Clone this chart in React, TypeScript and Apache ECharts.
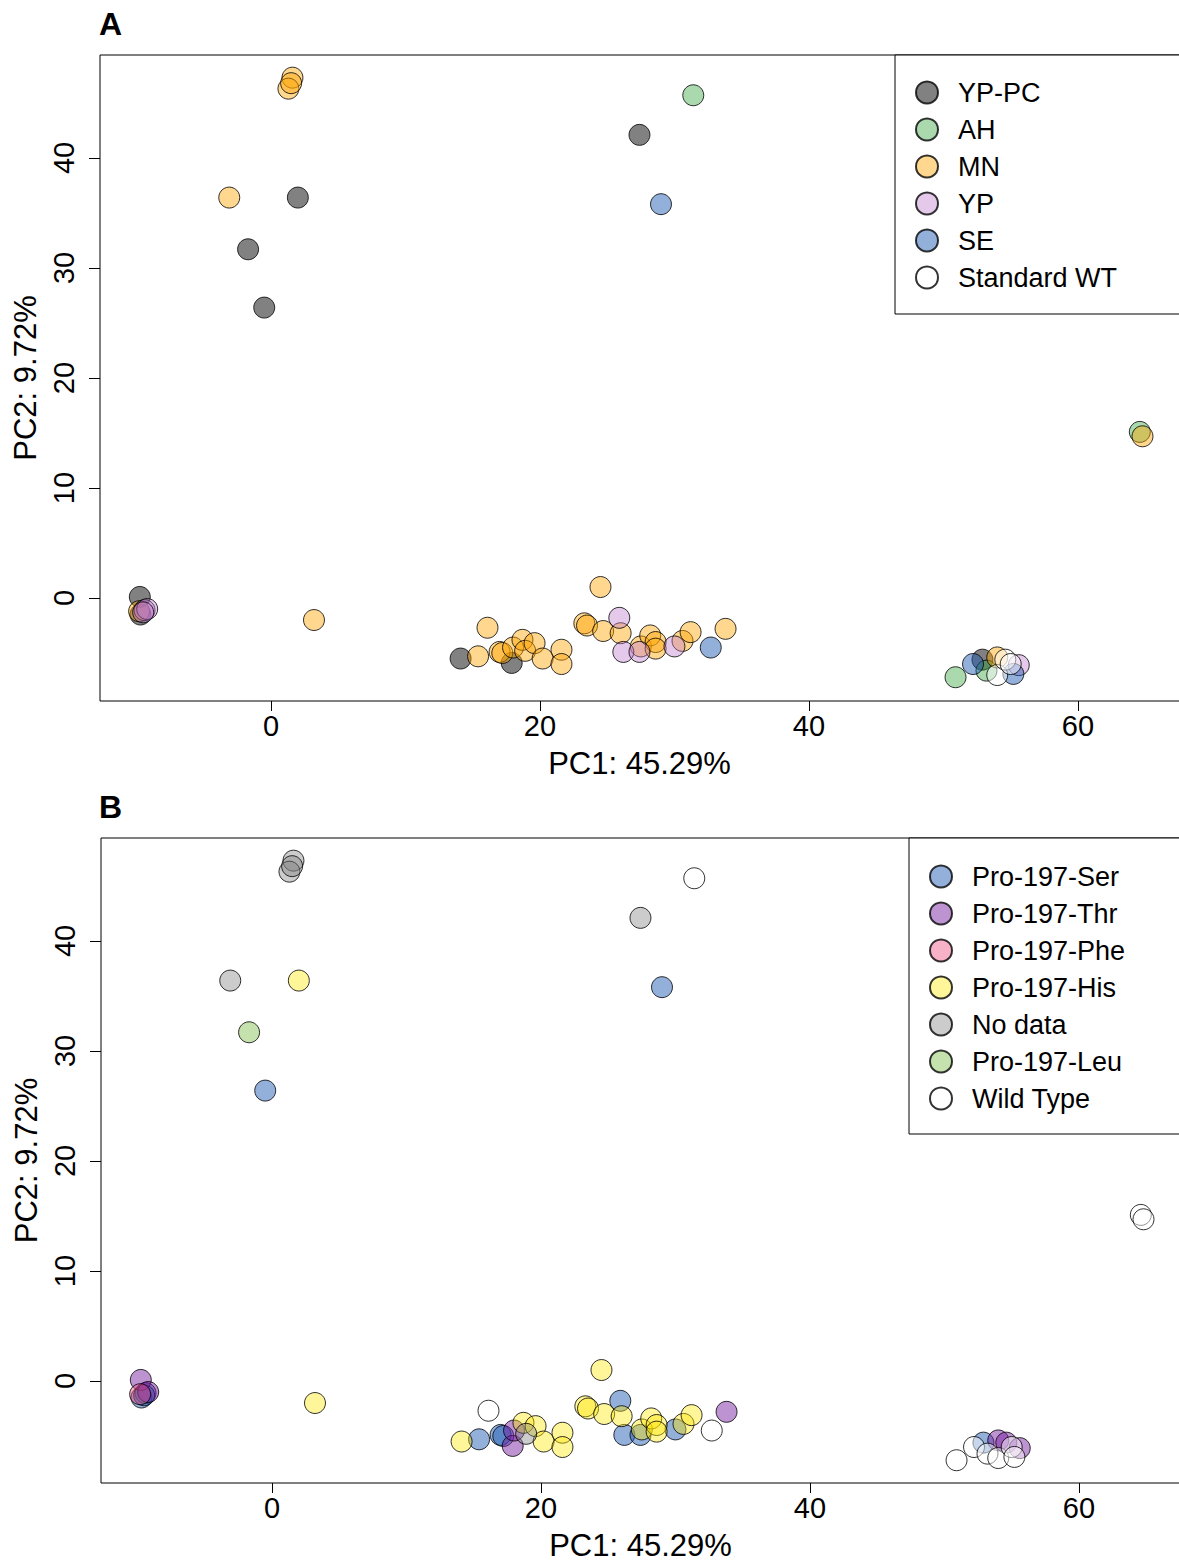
import React, { useEffect, useRef } from "react";
import * as echarts from "echarts";

// ---------- Panel A groups (PC1, PC2) ----------
const A_YPPC = [[2.0, 36.4], [-1.7, 31.7], [-0.5, 26.4], [27.4, 42.1], [-9.75, 0.1], [-9.7, -1.5], [14.1, -5.5], [17.9, -5.9], [52.9, -5.6]];
const A_AH = [[31.4, 45.7], [64.6, 15.1], [50.9, -7.2], [53.2, -6.6]];
const A_MN = [
  [1.6, 47.3], [1.3, 46.3], [1.5, 46.8], [-3.1, 36.4], [64.8, 14.7], [3.2, -2.0], [24.5, 1.0], [-9.8, -1.2],
  [15.4, -5.3], [16.1, -2.7], [17.0, -4.9], [17.2, -5.0], [18.0, -4.5], [18.7, -3.8], [18.9, -4.8], [19.6, -4.1],
  [20.2, -5.5], [21.6, -4.7], [21.6, -6.0], [23.3, -2.3], [23.5, -2.5], [24.7, -3.0], [26.0, -3.2], [27.5, -4.4],
  [28.2, -3.4], [28.6, -4.0], [28.6, -4.6], [30.6, -3.9], [31.2, -3.1], [33.8, -2.8], [54.0, -5.4],
];
const A_YP = [[-9.4, -1.1], [-9.2, -1.0], [-9.5, -1.3], [25.9, -1.8], [26.2, -4.9], [27.4, -4.9], [30.0, -4.4], [55.6, -6.1]];
const A_SE = [[29.0, 35.8], [32.7, -4.5], [52.2, -6.0], [55.2, -6.9]];
const A_WT = [[54.0, -7.0], [54.6, -5.6], [55.0, -6.0]];

// ---------- Panel B groups (PC1, PC2) ----------
const B_SER = [[-0.5, 26.4], [29.0, 35.8], [-9.7, -1.5], [-9.4, -1.1], [-9.5, -1.3], [15.4, -5.3], [17.0, -4.9], [17.2, -5.0], [25.9, -1.8], [26.2, -4.9], [27.4, -4.9], [30.0, -4.4], [52.9, -5.6]];
const B_THR = [[-9.75, 0.1], [-9.2, -1.0], [17.9, -5.9], [18.0, -4.5], [33.8, -2.8], [54.0, -5.4], [54.6, -5.6], [55.6, -6.1]];
const B_PHE = [[-9.8, -1.2]];
const B_HIS = [
  [2.0, 36.4], [3.2, -2.0], [24.5, 1.0], [14.1, -5.5], [18.7, -3.8], [19.6, -4.1], [20.2, -5.5], [21.6, -4.7],
  [21.6, -6.0], [23.3, -2.3], [23.5, -2.5], [24.7, -3.0], [26.0, -3.2], [27.5, -4.4], [28.2, -3.4], [28.6, -4.0],
  [28.6, -4.6], [30.6, -3.9], [31.2, -3.1],
];
const B_ND = [[1.6, 47.3], [1.3, 46.3], [1.5, 46.8], [-3.1, 36.4], [27.4, 42.1], [18.9, -4.8]];
const B_LEU = [[-1.7, 31.7]];
const B_WT = [[31.4, 45.7], [64.6, 15.1], [64.8, 14.7], [16.1, -2.7], [32.7, -4.5], [50.9, -7.2], [52.2, -6.0], [53.2, -6.6], [54.0, -7.0], [55.0, -6.0], [55.2, -6.9]];

const X_TICKS = [0, 20, 40, 60];
const Y_TICKS = [0, 10, 20, 30, 40];
const X_TITLE = "PC1: 45.29%";
const Y_TITLE = "PC2: 9.72%";

const A_NAMES = ["YP-PC", "AH", "MN", "YP", "SE", "Standard WT"];
const B_NAMES = ["Pro-197-Ser", "Pro-197-Thr", "Pro-197-Phe", "Pro-197-His", "No data", "Pro-197-Leu", "Wild Type"];

const FONT = "'Liberation Sans', Arial, Helvetica, sans-serif";

const A_COLORS = [
  "rgba(0,0,0,0.62)",
  "rgba(40,160,50,0.5)",
  "rgba(255,165,0,0.55)",
  "rgba(190,120,205,0.5)",
  "rgba(30,90,180,0.6)",
  "rgba(255,255,255,0.6)",
];
const B_COLORS = [
  "rgba(30,90,180,0.6)",
  "rgba(120,30,160,0.6)",
  "rgba(240,80,130,0.55)",
  "rgba(255,230,0,0.5)",
  "rgba(128,128,128,0.5)",
  "rgba(110,180,50,0.5)",
  "rgba(255,255,255,0.6)",
];

function xAxis(gridIndex: number) {
  return {
    type: "value",
    gridIndex,
    min: -12.71,
    max: 67.96,
    name: X_TITLE,
    nameLocation: "middle",
    nameGap: 47,
    nameTextStyle: { fontSize: 31, color: "#000", fontFamily: FONT, padding: [0, 6, 0, 0] },
    axisLine: { show: false, onZero: false },
    axisTick: { show: true, length: 10, lineStyle: { color: "#000", width: 1 }, customValues: X_TICKS },
    axisLabel: { fontSize: 29, color: "#000", fontFamily: FONT, margin: 10, customValues: X_TICKS },
    splitLine: { show: false },
  };
}

function yAxis(gridIndex: number, min: number, max: number) {
  return {
    type: "value",
    gridIndex,
    min,
    max,
    name: Y_TITLE,
    nameLocation: "middle",
    nameGap: 58,
    nameRotate: 90,
    nameTextStyle: { fontSize: 31, color: "#000", fontFamily: FONT },
    axisLine: { show: false, onZero: false },
    axisTick: { show: true, length: 11, lineStyle: { color: "#000", width: 1 }, customValues: Y_TICKS },
    axisLabel: { fontSize: 29, color: "#000", fontFamily: FONT, margin: 22, rotate: 90, customValues: Y_TICKS },
    splitLine: { show: false },
  };
}

function scatter(name: string, data: number[][], color: string, idx: number) {
  return {
    type: "scatter",
    name,
    data,
    xAxisIndex: idx,
    yAxisIndex: idx,
    symbol: "circle",
    symbolSize: 21,
    itemStyle: { color, borderColor: "#000", borderWidth: 1 },
    emphasis: { disabled: true },
  };
}

function legend(names: string[], left: number, top: number, pad: number[]) {
  return {
    data: names,
    orient: "vertical",
    left,
    top,
    padding: pad,
    itemWidth: 22,
    itemHeight: 22,
    itemGap: 10,
    borderColor: "#000",
    borderWidth: 1,
    backgroundColor: "#fff",
    selectedMode: false,
    textStyle: { fontSize: 27, fontFamily: FONT, color: "#000", padding: [0, 0, 0, 15] },
  };
}

export default function App() {
  const ref = useRef<HTMLDivElement>(null);
  useEffect(() => {
    if (!ref.current) return;
    const chart = echarts.init(ref.current, null, { renderer: "svg" });
    const aData = [A_YPPC, A_AH, A_MN, A_YP, A_SE, A_WT];
    const bData = [B_SER, B_THR, B_PHE, B_HIS, B_ND, B_LEU, B_WT];
    chart.setOption({
      animation: false,
      backgroundColor: "#fff",
      textStyle: { fontFamily: FONT },
      title: [
        { text: "A", left: 99, top: 8, padding: 0, textStyle: { fontSize: 32, fontWeight: "bold", fontFamily: FONT, color: "#000" } },
        { text: "B", left: 99, top: 791, padding: 0, textStyle: { fontSize: 32, fontWeight: "bold", fontFamily: FONT, color: "#000" } },
      ],
      grid: [
        { left: 100, top: 55, width: 1085, height: 646, outerBoundsMode: "none", containLabel: false, show: true, borderColor: "#000", borderWidth: 1, backgroundColor: "transparent" },
        { left: 101, top: 838, width: 1085, height: 645, outerBoundsMode: "none", containLabel: false, show: true, borderColor: "#000", borderWidth: 1, backgroundColor: "transparent" },
      ],
      xAxis: [xAxis(0), xAxis(1)],
      yAxis: [yAxis(0, -9.36, 49.36), yAxis(1, -9.27, 49.36)],
      legend: [legend(A_NAMES, 895, 55, [24, 120, 23, 20]), legend(B_NAMES, 909, 838, [25, 120, 22, 20])],
      series: [
        ...A_NAMES.map((n, i) => scatter(n, aData[i], A_COLORS[i], 0)),
        ...B_NAMES.map((n, i) => scatter(n, bData[i], B_COLORS[i], 1)),
      ],
    });
    return () => chart.dispose();
  }, []);
  return <div ref={ref} style={{ position: "fixed", left: 0, top: 0, width: 1179, height: 1562, background: "#fff" }} />;
}
